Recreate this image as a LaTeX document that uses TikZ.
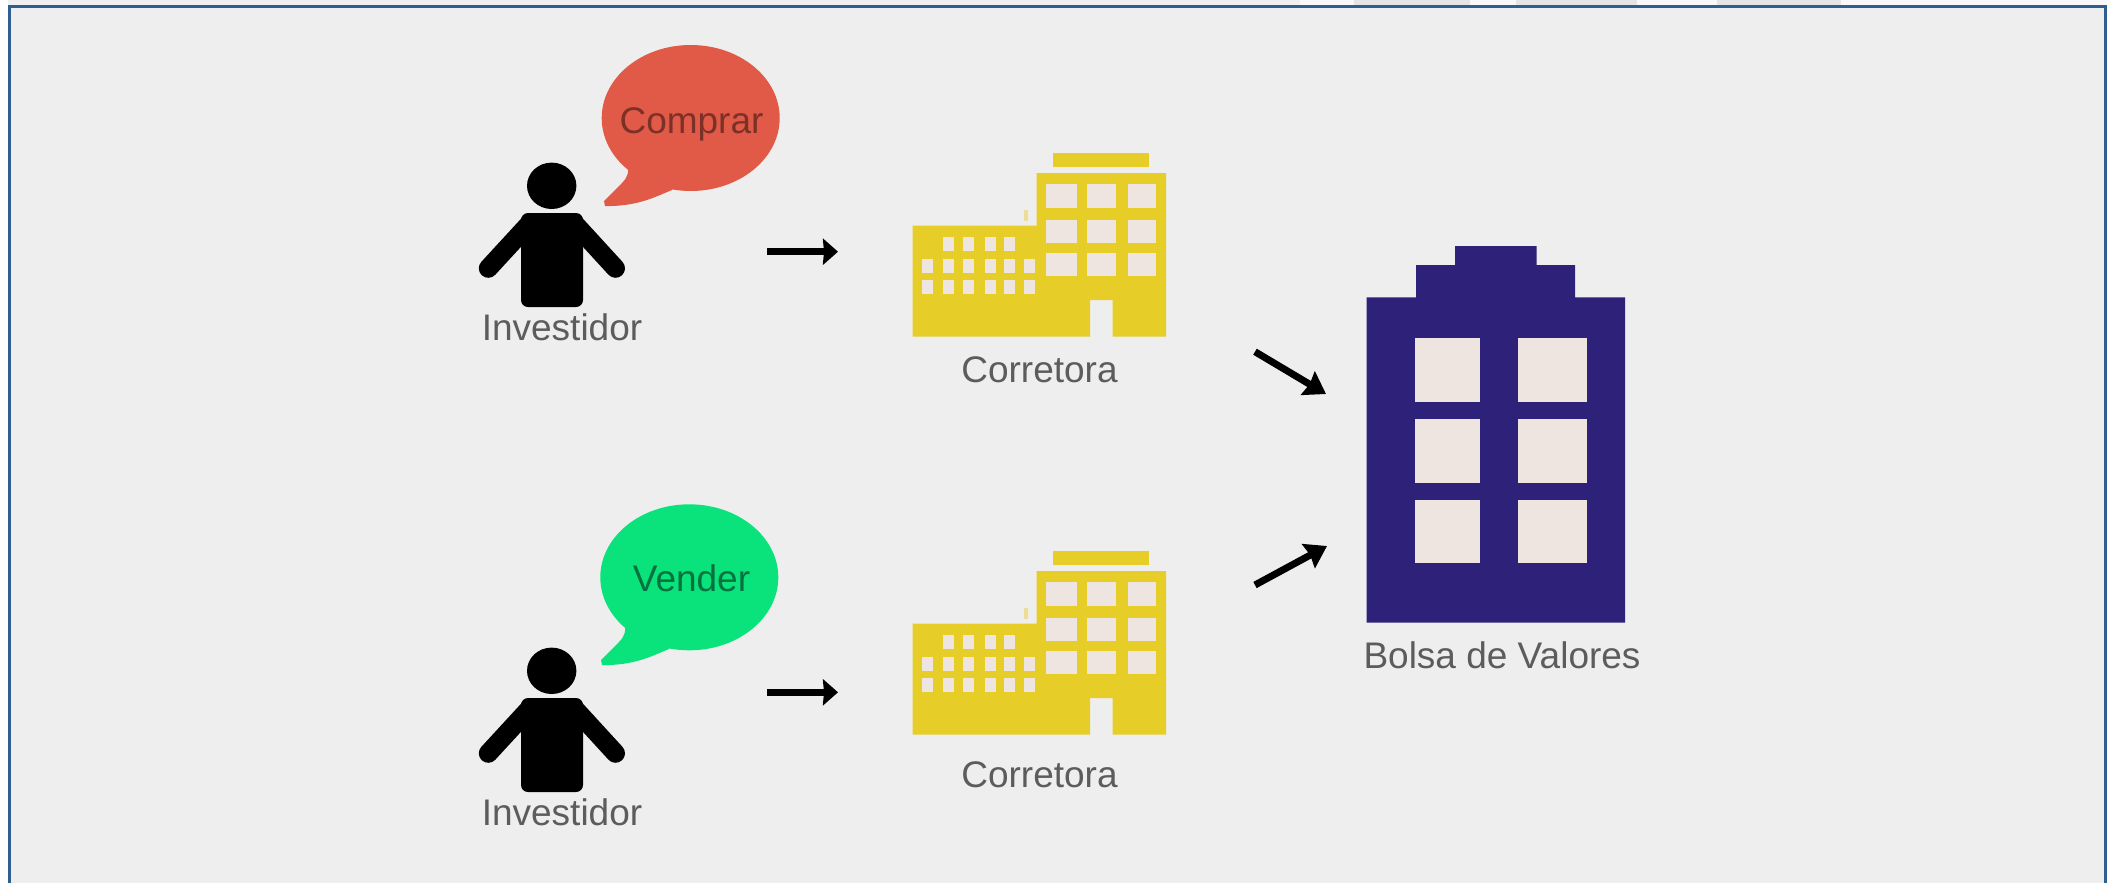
\documentclass[tikz,border=0pt]{standalone}
\usepackage{fontspec}
\setmainfont{Liberation Sans}
\usetikzlibrary{arrows.meta,shapes.geometric}
\definecolor{bgc}{HTML}{EEEEEE}
\definecolor{frame}{HTML}{2F5F8E}
\definecolor{yel}{HTML}{E6CD27}
\definecolor{win}{HTML}{EEE5E1}
\definecolor{navy}{HTML}{2E2179}
\definecolor{redb}{HTML}{E05A47}
\definecolor{greenb}{HTML}{0AE27C}
\definecolor{lab}{HTML}{5C5C5C}
\tikzset{
  x=1pt,y=-1pt,
  label text/.style={font=\fontsize{37}{40}\selectfont,text=lab,anchor=base,inner sep=0pt},
  bubble/.style={ellipse,inner sep=0pt,minimum width=178pt,minimum height=146pt},
  flow/.style={line width=6.5pt,black,-{Stealth[length=15pt,width=26pt,inset=1pt]}},
  flow diag/.style={line width=7pt,black,-{Stealth[length=21pt,width=27pt,inset=2pt]}},
  pics/tail/.style={code={
    \fill[#1] (604,201) -- (617,188) .. controls (624,181) and (629,177) .. (628,168) -- (680,168) -- (672,190)
      .. controls (655,197) and (640,205) .. (612,206) -- (605,206) -- cycle;
  }},
  pics/investor/.style={code={
    \fill[black] (551.7,185.8) ellipse[x radius=24.7,y radius=23.2];
    \fill[black,rounded corners=7pt] (521,307) -- (521,213) -- (583,213) -- (583,307) -- cycle;
    \draw[black,line width=19pt,line cap=round] (530,223) -- (488.3,268.3);
    \draw[black,line width=19pt,line cap=round] (574,223) -- (615.5,268.3);
  }},
  pics/broker/.style={code={
    \fill[yel] (912.5,225.5) -- (1036.5,225.5) -- (1036.5,173) -- (1166,173) -- (1166,336.7)
      -- (1112.5,336.7) -- (1112.5,300) -- (1090,300) -- (1090,336.7) -- (912.5,336.7) -- cycle;
    \fill[yel] (1052.5,153) rectangle (1149,166.5);
    \fill[yel!45!bgc] (1023.5,210) rectangle (1028,221);
    \foreach \xa/\xb in {1046/1077,1087/1115.5,1127.5/1155.5}
      \foreach \ya/\yb in {184/207.5,219.5/243,252.5/276}
        \fill[win] (\xa,\ya) rectangle (\xb,\yb);
    \foreach \xc in {948,968,990,1009}
      \fill[win] (\xc-5.5,237) rectangle (\xc+5.5,250.5);
    \foreach \xc in {927,948,968,990,1009,1029.5}
      \foreach \yc in {266,287}
        \fill[win] (\xc-5.5,\yc-7) rectangle (\xc+5.5,\yc+7);
  }}
}
\begin{document}
\begin{tikzpicture}
\useasboundingbox (0,0) rectangle (2107,887);
% page strip behind the frame
\fill[white] (0,0) rectangle (2107,887);
\fill[gray!12] (8,0) rectangle (1300,5);
\fill[gray!5] (1300,0) rectangle (2107,5);
\foreach \xa/\xb in {1354/1470,1516/1637,1717/1841}
  \fill[gray!20] (\xa,0) rectangle (\xb,5);
% panel
\fill[bgc] (9,6) rectangle (2105,883);
\draw[frame,line width=3pt] (9,883) -- (9,6) -- (2105,6) -- (2105,883);

% speech bubbles
\node[bubble,fill=redb] (buy) at (690.7,118) {};
\pic {tail=redb};
\node[label text,text=redb!55!black] (buytext) at (691.5,133) {Comprar};

\node[bubble,fill=greenb] (sell) at (689.3,577.3) {};
\pic[xshift=-3pt,yshift=-459pt] {tail=greenb};
\node[label text,text=greenb!50!black] (selltext) at (691.5,591.7) {Vender};

% investors
\pic {investor};
\pic[yshift=-485pt] {investor};
\node[label text] (inv1) at (562,340.7) {Investidor};
\node[label text] (inv2) at (562,825) {Investidor};

% brokers
\pic {broker};
\pic[yshift=-398pt] {broker};
\node[label text] (cor1) at (1039.5,382.5) {Corretora};
\node[label text] (cor2) at (1039.5,787.5) {Corretora};

% exchange
\fill[navy] (1366.7,622.7) -- (1366.7,297.3) -- (1416,297.3) -- (1416,265) -- (1455,265) -- (1455,246)
  -- (1536.7,246) -- (1536.7,265) -- (1575,265) -- (1575,297.3) -- (1625,297.3) -- (1625,622.7) -- cycle;
\foreach \xa/\xb in {1415/1480,1518.3/1586.7}
  \foreach \ya/\yb in {338.3/402.3,419/482.7,500/563.3}
    \fill[win] (\xa,\ya) rectangle (\xb,\yb);
\node[label text] (bolsa) at (1502,668) {Bolsa de Valores};

% connectors
\coordinate (a1s) at (767,251.7);  \coordinate (a1e) at (838,251.7);
\coordinate (a2s) at (767,692.3);  \coordinate (a2e) at (838,692.3);
\coordinate (a3s) at (1255,351.7); \coordinate (a3e) at (1326,394);
\coordinate (a4s) at (1255,585);   \coordinate (a4e) at (1327,546);
\draw[flow] (a1s) -- (a1e);
\draw[flow] (a2s) -- (a2e);
\draw[flow diag] (a3s) -- (a3e);
\draw[flow diag] (a4s) -- (a4e);
\end{tikzpicture}
\end{document}
